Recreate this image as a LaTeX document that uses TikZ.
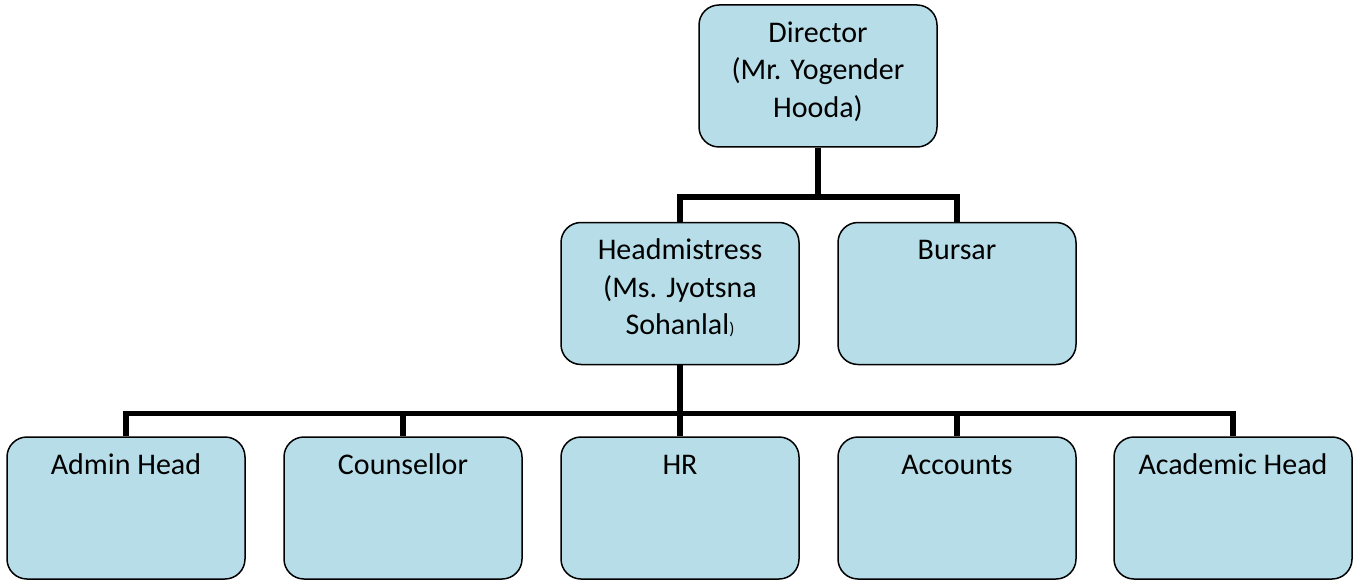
\documentclass[tikz,border=0pt]{standalone}
\usepackage{fontspec}
\setmainfont{Carlito}
\usetikzlibrary{calc}
\definecolor{boxfill}{HTML}{B7DEE8}
\begin{document}
\begin{tikzpicture}[x=1pt,y=-1pt,
  box/.style={draw=black, line width=1.5pt, fill=boxfill, rounded corners=20pt,
    minimum width=238pt, minimum height=142pt, inner sep=0pt},
  txt/.style={anchor=north, inner sep=0pt, align=center,
    font=\fontsize{30}{37.5}\selectfont},
  conn/.style={draw=black, line width=5.8pt, line join=miter}]
\useasboundingbox (0,0) rectangle (1356,580);
% boxes
\node[box] (dir) at (818,76) {};
\node[box] (head) at (680,293.5) {};
\node[box] (bursar) at (957,293.5) {};
\node[box] (admin) at (126,508) {};
\node[box] (couns) at (403,508) {};
\node[box] (hr) at (680,508) {};
\node[box] (acc) at (957,508) {};
\node[box] (acad) at (1233,508) {};
% texts
\node[txt] (tdir) at ($(dir.north)+(0,11.5)$) {\strut Director\\(Mr. Yogender\\Hooda)};
\node[txt] (thead) at ($(head.north)+(0,11.5)$) {\strut Headmistress\\(Ms. Jyotsna\\Sohanlal{\fontsize{17}{17}\selectfont)}};
\node[txt] (tbursar) at ($(bursar.north)+(0,11.5)$) {\strut Bursar};
\node[txt] (tadmin) at ($(admin.north)+(0,11.5)$) {\strut Admin Head};
\node[txt] (tcouns) at ($(couns.north)+(0,11.5)$) {\strut Counsellor};
\node[txt] (thr) at ($(hr.north)+(0,11.5)$) {\strut HR};
\node[txt] (tacc) at ($(acc.north)+(0,11.5)$) {\strut Accounts};
\node[txt] (tacad) at ($(acad.north)+(0,11.5)$) {\strut Academic Head};
% connectors
\coordinate (j1) at (818,197);
\coordinate (j2) at (680,413.5);
\draw[conn] (dir.south) -- (j1);
\draw[conn] (j1) -| (head.north);
\draw[conn] (j1) -| (bursar.north);
\draw[conn] (head.south) -- (j2);
\draw[conn] (j2) -| (admin.north);
\draw[conn] (j2) -| (couns.north);
\draw[conn] (j2) -- (hr.north);
\draw[conn] (j2) -| (acc.north);
\draw[conn] (j2) -| (acad.north);
\end{tikzpicture}
\end{document}
